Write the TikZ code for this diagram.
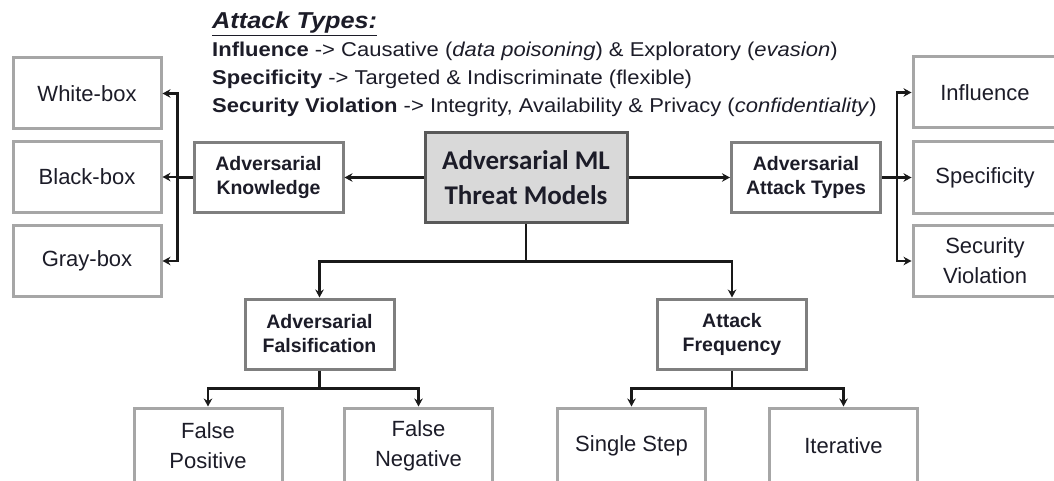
\documentclass[tikz,border=0pt]{standalone}
\usepackage{fontspec}
\setmainfont{Liberation Sans}
\newfontfamily\hubfont{Carlito}
\newfontfamily\hdfont{Liberation Sans}[FakeStretch=1.1]
\usetikzlibrary{arrows.meta,calc}

\definecolor{leafgray}{HTML}{A6A6A6}
\definecolor{midgray}{HTML}{7F7F7F}
\definecolor{hubgray}{HTML}{595959}
\definecolor{hubfill}{HTML}{D9D9D9}
\definecolor{txt}{HTML}{1C1C28}

\tikzset{
  leaf/.style={draw=leafgray, line width=3pt, fill=white, minimum width=148pt,
    minimum height=71pt, inner sep=0pt, align=center, text=txt,
    font=\fontsize{22}{30}\selectfont},
  mid/.style={draw=midgray, line width=3pt, fill=white, minimum width=149pt,
    minimum height=70pt, inner sep=0pt, align=center, text=txt,
    font=\fontsize{19.5}{24}\selectfont\bfseries},
  hub/.style={draw=hubgray, fill=hubfill, line width=3pt, minimum width=202pt,
    minimum height=89pt, inner sep=0pt, align=center, text=txt,
    font=\hubfont\fontsize{27}{35}\selectfont\bfseries},
  link/.style={line width=2.8pt, draw=black!90},
  arr/.style={link, -{Stealth[length=8pt,width=8.5pt]}},
  hdline/.style={anchor=base west, inner sep=0pt, text=txt}
}

\begin{document}
\begin{tikzpicture}[x=1pt, y=-1pt]
  \useasboundingbox (0,0) rectangle (1054,481);
  \clip (0,0) rectangle (1054,481);

  % summary of the attack types
  \node[hdline] (hd) at (212,29)
    {\hdfont\fontsize{23}{23}\selectfont\bfseries\itshape\underline{Attack Types:}};
  \node[hdline] (h1) at (212,57)
    {\hdfont\fontsize{20}{20}\selectfont\textbf{Influence} -> Causative (\textit{data poisoning}) \& Exploratory (\textit{evasion})};
  \node[hdline] (h2) at (212,85)
    {\hdfont\fontsize{20}{20}\selectfont\textbf{Specificity} -> Targeted \& Indiscriminate (flexible)};
  \node[hdline] (h3) at (212,113)
    {\hdfont\fontsize{20}{20}\selectfont\textbf{Security Violation} -> Integrity, Availability \& Privacy (\textit{confidentiality})};

  % central node
  \node[hub] (hub) at (526,177.5) {Adversarial ML\\Threat Models};

  % second level
  \node[mid] (ak)  at (268.5,177.5) {Adversarial\\Knowledge};
  \node[mid] (aat) at (806,177.5)   {Adversarial\\Attack Types};
  \node[mid] (af)  at (319.5,334)   {Adversarial\\Falsification};
  \node[mid] (afq) at (732,334)     {Attack\\Frequency};

  % leaves: knowledge
  \node[leaf] (wb) at (87,93.5) {White-box};
  \node[leaf] (bb) at (87,177)  {Black-box};
  \node[leaf] (gb) at (87,261)  {Gray-box};

  % leaves: attack types
  \node[leaf, minimum width=144pt] (inf) at (985,92.5) {Influence};
  \node[leaf, minimum width=144pt] (spe) at (985,177.5) {Specificity};
  \node[leaf, minimum width=144pt] (sv)  at (985,261)   {Security\\Violation};

  % leaves: falsification and frequency
  \node[leaf, minimum height=76pt] (fp) at (208,446)   {False\\Positive};
  \node[leaf, minimum height=76pt] (fn) at (418.5,446) {False\\Negative};
  \node[leaf, minimum height=76pt] (ss) at (631.5,446) {Single Step};
  \node[leaf, minimum height=76pt] (it) at (843.5,446) {Iterative};

  % hub to side nodes
  \draw[arr] (hub.west) -- (ak.east);
  \draw[arr] (hub.east) -- (aat.west);

  % knowledge branches
  \coordinate (kj) at ($(ak.west)+(-15,0)$);
  \draw[link] (ak.west) -- (kj);
  \draw[arr] (kj) |- (wb.east);
  \draw[arr] (kj) |- (bb.east);
  \draw[arr] (kj) |- (gb.east);

  % attack type branches
  \coordinate (tj) at ($(aat.east)+(15,0)$);
  \draw[link] (aat.east) -- (tj);
  \draw[arr] (tj) |- (inf.west);
  \draw[arr] (tj) |- (spe.west);
  \draw[arr] (tj) |- (sv.west);

  % hub downwards
  \coordinate (hj) at ($(hub.south)+(0,38)$);
  \draw[link] (hub.south) -- (hj);
  \draw[arr] (hj) -| (af.north);
  \draw[arr] (hj) -| (afq.north);

  % falsification branches
  \coordinate (fj) at ($(af.south)+(0,18)$);
  \draw[link] (af.south) -- (fj);
  \draw[arr] (fj) -| (fp.north);
  \draw[arr] (fj) -| (fn.north);

  % frequency branches
  \coordinate (qj) at ($(afq.south)+(0,18)$);
  \draw[link] (afq.south) -- (qj);
  \draw[arr] (qj) -| (ss.north);
  \draw[arr] (qj) -| (it.north);
\end{tikzpicture}
\end{document}
